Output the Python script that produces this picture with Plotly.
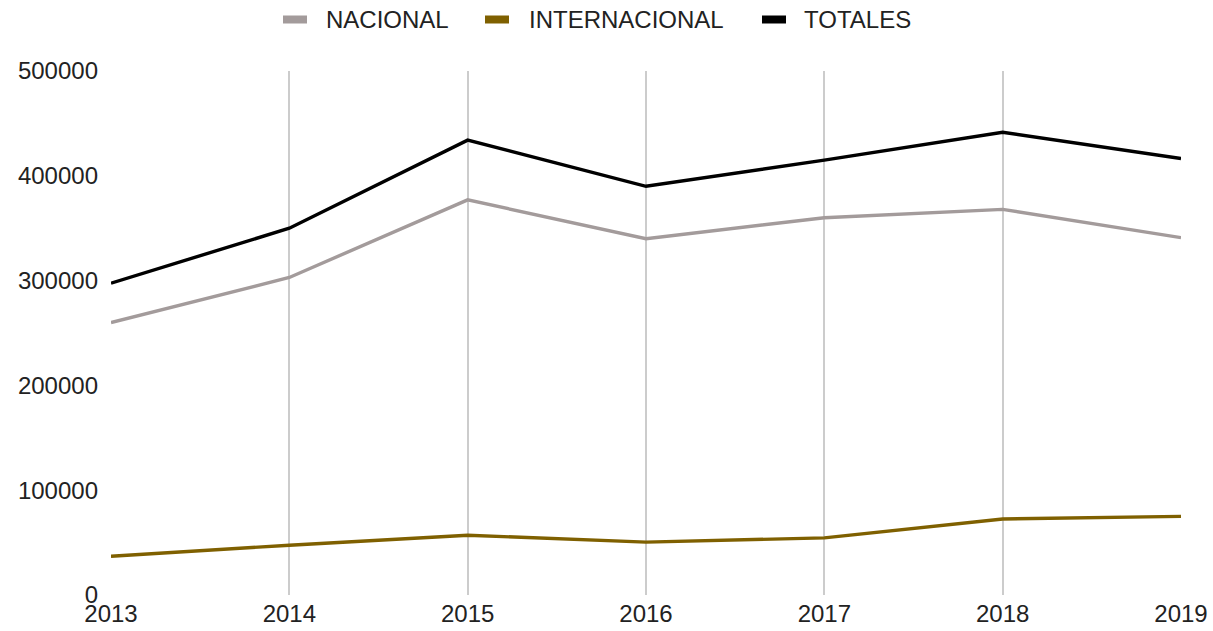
import plotly.graph_objects as go

years = ["2013", "2014", "2015", "2016", "2017", "2018", "2019"]
nacional = [260000, 303000, 377000, 340000, 360000, 368000, 341000]
internacional = [37000, 47500, 57000, 50500, 54500, 72500, 75000]
totales = [297500, 350000, 434000, 390000, 415000, 441500, 416500]

names = ["NACIONAL", "INTERNACIONAL", "TOTALES"]
values = [nacional, internacional, totales]
colors = ["#a39b9b", "#7f6000", "#000000"]

W, H = 1213, 631
L, R, T, B = 111, 32, 71, 36
PW, PH = W - L - R, H - T - B

def px_x(p):
    return (p - L) / PW

def px_y(p):
    return (H - B - p) / PH

fig = go.Figure()
for name, vals, color in zip(names, values, colors):
    fig.add_trace(go.Scatter(x=years, y=vals, mode="lines", name=name,
                             line=dict(color=color, width=3.4),
                             showlegend=False))

# custom legend: bar swatch + label (pixel positions)
legend_swatch_left = [283, 485, 762]
legend_text_left = [325, 528, 803]
shapes, annotations = [], []
for name, color, sx, tx in zip(names, colors, legend_swatch_left, legend_text_left):
    shapes.append(dict(type="rect", xref="paper", yref="paper",
                       x0=px_x(sx), x1=px_x(sx + 24), y0=px_y(23.5), y1=px_y(15.5),
                       fillcolor=color, line=dict(width=0), layer="above"))
    annotations.append(dict(text=name, xref="paper", yref="paper",
                            x=px_x(tx - 1), y=px_y(19.5), xanchor="left", yanchor="middle",
                            showarrow=False, font=dict(size=24, color="#222222")))

fig.update_layout(
    width=W, height=H,
    margin=dict(l=L, r=R, t=T, b=B, autoexpand=False),
    paper_bgcolor="white", plot_bgcolor="white",
    font=dict(family="Liberation Sans, Arial, sans-serif", size=24, color="#222222"),
    showlegend=False,
    shapes=shapes, annotations=annotations,
    xaxis=dict(type="category", showgrid=True, gridcolor="#cccccc", gridwidth=1.5,
               zeroline=False, showline=False, ticks="", range=[0, 6],
               automargin=False, ticklabelstandoff=2, tickfont=dict(size=24)),
    yaxis=dict(range=[0, 500000], tickvals=[0, 100000, 200000, 300000, 400000, 500000],
               ticktext=["0", "100000", "200000", "300000", "400000", "500000"],
               showgrid=False, zeroline=False, showline=False, ticks="",
               automargin=False, ticklabelstandoff=12, tickfont=dict(size=24)),
)

fig.write_html("out.html",
               config={"displayModeBar": False},
               post_script="document.body.style.margin='0';document.body.style.overflow='hidden';")
